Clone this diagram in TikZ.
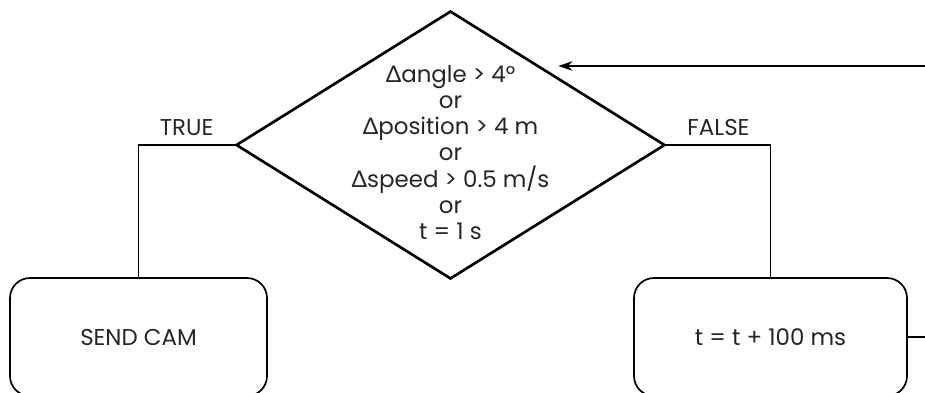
\documentclass[tikz,border=0pt]{standalone}
\usepackage{fontspec}
\setmainfont{Poppins}
\newfontfamily\deltafont{Lato}
\usepackage{tikz}
\usetikzlibrary{shapes.geometric,arrows.meta,positioning}

\newcommand{\dlt}{{\deltafont\symbol{"0394}}}

\begin{document}
\begin{tikzpicture}[font=\fontsize{16.3pt}{18.6pt}\selectfont, text=black!85]
		\useasboundingbox (0,0) rectangle (23.125,9.8);
		\clip (0,0) rectangle (23.125,9.8);

		% Draw the decision diamond
		\node (dec) [draw, diamond, line width=1.9pt, inner sep=0pt, minimum width=10.725cm, minimum height=6.7cm] at (11.2625,6.175) {};
		\node (cond) [align=center, yshift=-0.19cm] at (dec) {\dlt angle > 4°\\or\\\dlt position > 4 m\\or\\\dlt speed > 0.5 m/s\\or\\t = 1 s};

		% Draw the box on the true side
		\node (sendbox) [draw, rectangle, rounded corners=0.5cm, line width=1.2pt, minimum width=6.425cm, minimum height=2.95cm, below of=dec, node distance=4.8cm, xshift=-7.8cm] {SEND CAM};

		% Draw the box on the false side
		\node (waitbox) [draw, rectangle, rounded corners=0.5cm, line width=1.2pt, minimum width=6.825cm, minimum height=2.95cm, below of=dec, node distance=4.8cm, xshift=8cm] {t = t + 100 ms};

		% Loose ends at the right border
		\coordinate (loopin) at (23.2,8.15);
		\coordinate (loopout) at (23.2,1.375);

		% Connect the diamond with the boxes
		\draw[line width=1.2pt] (dec.west) -| node (ltrue) [pos=0.25, above=0.1cm] {TRUE} (sendbox.north);
		\draw[line width=1.2pt] (dec.east) -| node (lfalse) [pos=0.25, above=0.1cm] {FALSE} (waitbox.north);

		% Loop back into the diamond
		\draw[line width=1.2pt] (waitbox.east) -- (loopout);
		\draw[line width=1.2pt, -{Stealth[length=0.35cm, width=0.24cm]}] (loopin) -- (loopin -| dec.north east);
	\end{tikzpicture}
\end{document}
